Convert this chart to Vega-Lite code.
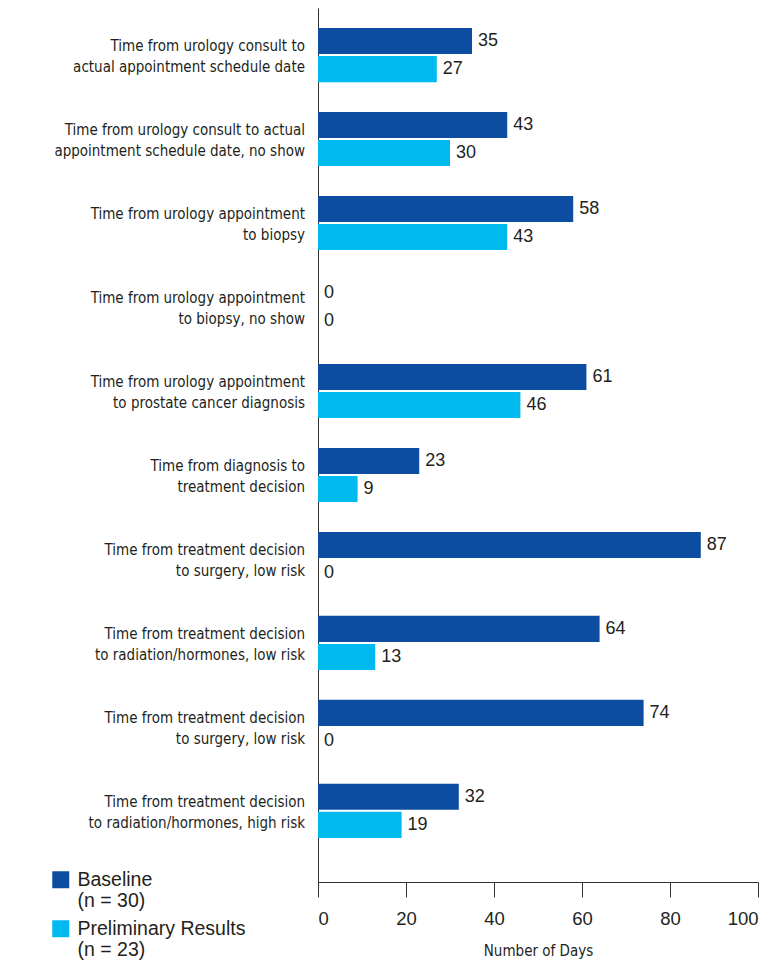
{
  "$schema": "https://vega.github.io/schema/vega-lite/v6.json",
  "autosize": {"type": "none"},
  "padding": {"left": 318, "top": 8, "right": 15, "bottom": 92},
  "width": 440,
  "height": 874,
  "background": "white",
  "config": {
    "view": {"stroke": null},
    "font": "Liberation Sans",
    "text": {"color": "#231f20"}
  },
  "data": {
    "values": [
      {"cat": 1, "question": "Time from urology consult to\nactual appointment schedule date", "series": "Baseline", "days": 35},
      {"cat": 1, "question": "Time from urology consult to\nactual appointment schedule date", "series": "Preliminary Results", "days": 27},
      {"cat": 2, "question": "Time from urology consult to actual\nappointment schedule date, no show", "series": "Baseline", "days": 43},
      {"cat": 2, "question": "Time from urology consult to actual\nappointment schedule date, no show", "series": "Preliminary Results", "days": 30},
      {"cat": 3, "question": "Time from urology appointment\nto biopsy", "series": "Baseline", "days": 58},
      {"cat": 3, "question": "Time from urology appointment\nto biopsy", "series": "Preliminary Results", "days": 43},
      {"cat": 4, "question": "Time from urology appointment\nto biopsy, no show", "series": "Baseline", "days": 0},
      {"cat": 4, "question": "Time from urology appointment\nto biopsy, no show", "series": "Preliminary Results", "days": 0},
      {"cat": 5, "question": "Time from urology appointment\nto prostate cancer diagnosis", "series": "Baseline", "days": 61},
      {"cat": 5, "question": "Time from urology appointment\nto prostate cancer diagnosis", "series": "Preliminary Results", "days": 46},
      {"cat": 6, "question": "Time from diagnosis to\ntreatment decision", "series": "Baseline", "days": 23},
      {"cat": 6, "question": "Time from diagnosis to\ntreatment decision", "series": "Preliminary Results", "days": 9},
      {"cat": 7, "question": "Time from treatment decision\nto surgery, low risk", "series": "Baseline", "days": 87},
      {"cat": 7, "question": "Time from treatment decision\nto surgery, low risk", "series": "Preliminary Results", "days": 0},
      {"cat": 8, "question": "Time from treatment decision\nto radiation/hormones, low risk", "series": "Baseline", "days": 64},
      {"cat": 8, "question": "Time from treatment decision\nto radiation/hormones, low risk", "series": "Preliminary Results", "days": 13},
      {"cat": 9, "question": "Time from treatment decision\nto surgery, low risk", "series": "Baseline", "days": 74},
      {"cat": 9, "question": "Time from treatment decision\nto surgery, low risk", "series": "Preliminary Results", "days": 0},
      {"cat": 10, "question": "Time from treatment decision\nto radiation/hormones, high risk", "series": "Baseline", "days": 32},
      {"cat": 10, "question": "Time from treatment decision\nto radiation/hormones, high risk", "series": "Preliminary Results", "days": 19}
    ]
  },
  "encoding": {
    "y": {
      "field": "cat",
      "type": "ordinal",
      "sort": "ascending",
      "scale": {"paddingInner": 0, "paddingOuter": 0.204, "align": 0.149},
      "axis": {
        "title": null,
        "labels": false,
        "ticks": false,
        "domain": true,
        "domainColor": "#333333",
        "domainWidth": 1
      }
    }
  },
  "layer": [
    {
      "mark": {"type": "bar"},
      "encoding": {
        "x": {
          "field": "days",
          "type": "quantitative",
          "scale": {"domain": [0, 100], "nice": false},
          "axis": {
            "title": "Number of Days",
            "values": [0, 20, 40, 60, 80, 100],
            "grid": false,
            "tickSize": 15,
            "tickColor": "#333333",
            "domainColor": "#333333",
            "labelFont": "Liberation Sans",
            "labelFontSize": 18.5,
            "labelColor": "#231f20",
            "labelPadding": 12,
            "titleFont": "DejaVu Sans Condensed, Roboto, sans-serif",
            "titleFontSize": 15,
            "titleFontWeight": "normal",
            "titleColor": "#231f20",
            "titlePadding": 16
          }
        },
        "yOffset": {
          "field": "series",
          "type": "nominal",
          "sort": ["Baseline", "Preliminary Results"],
          "scale": {"paddingInner": 0.0714, "paddingOuter": 0.532}
        },
        "color": {
          "field": "series",
          "type": "nominal",
          "scale": {"domain": ["Baseline", "Preliminary Results"], "range": ["#0c4da2", "#00b9ef"]},
          "legend": {
            "title": null,
            "orient": "none",
            "legendX": -267,
            "legendY": 862,
            "padding": 0,
            "symbolType": "square",
            "symbolSize": 289,
            "symbolStrokeWidth": 0,
            "labelFont": "Liberation Sans",
            "labelFontSize": 19.5,
            "labelColor": "#231f20",
            "labelLimit": 300,
            "labelOffset": 7,
            "labelBaseline": "middle",
            "rowPadding": 7,
            "labelExpr": "datum.label == 'Baseline' ? ['Baseline', '(n = 30)'] : ['Preliminary Results', '(n = 23)']"
          }
        }
      }
    },
    {
      "mark": {"type": "text", "align": "left", "baseline": "middle", "dx": 6, "fontSize": 18, "font": "Liberation Sans"},
      "encoding": {
        "x": {"field": "days", "type": "quantitative"},
        "yOffset": {"field": "series", "type": "nominal", "sort": ["Baseline", "Preliminary Results"]},
        "text": {"field": "days", "type": "quantitative"}
      }
    },
    {
      "transform": [{"filter": "datum.series == 'Baseline'"}],
      "mark": {"type": "text", "align": "right", "baseline": "middle", "dx": -13, "dy": -9, "fontSize": 15, "font": "DejaVu Sans Condensed, Roboto, sans-serif", "lineBreak": "\n", "lineHeight": 21},
      "encoding": {
        "x": {"datum": 0, "type": "quantitative"},
        "text": {"field": "question", "type": "nominal"}
      }
    }
  ]
}
